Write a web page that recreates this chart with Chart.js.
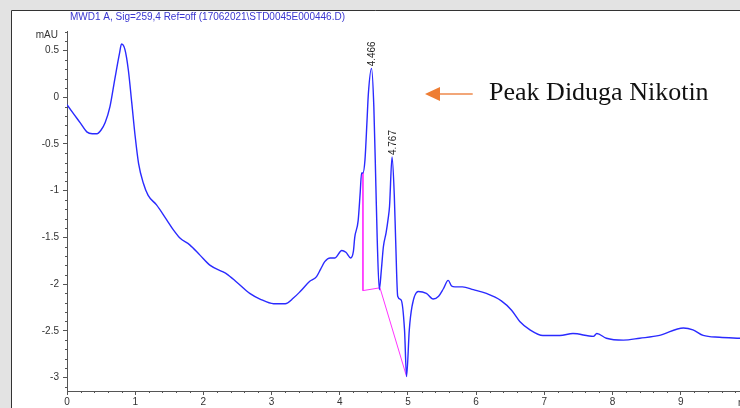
<!DOCTYPE html>
<html>
<head>
<meta charset="utf-8">
<script src="https://cdn.jsdelivr.net/npm/chart.js@4.4.1/dist/chart.umd.min.js"></script>
<style>
  html, body { margin: 0; padding: 0; background: #fff; }
  #wrap { width: 740px; height: 408px; position: relative; }
</style>
</head>
<body>
<div id="wrap"><canvas id="chroma" width="740" height="408"></canvas></div>
<script>
// === DONNÉES ===
const titreSignal = 'MWD1 A, Sig=259,4 Ref=off (17062021\\STD0045E000446.D)';

const tempsMin = [0, 0.1, 0.2, 0.29, 0.37, 0.44, 0.5, 0.56, 0.63, 0.70, 0.77, 0.80, 0.85, 0.90, 0.95,
  1.00, 1.05, 1.12, 1.19, 1.31, 1.46, 1.56, 1.66, 1.80, 1.95, 2.10, 2.29, 2.34, 2.49, 2.68, 2.83,
  3.03, 3.20, 3.32, 3.42, 3.56, 3.66, 3.72, 3.78, 3.86, 3.93, 4.03, 4.09, 4.16, 4.20, 4.22, 4.27,
  4.30, 4.32, 4.34, 4.37, 4.40, 4.42, 4.466, 4.50, 4.53, 4.55, 4.58, 4.61, 4.64, 4.68, 4.71, 4.73,
  4.767, 4.80, 4.82, 4.85, 4.90, 4.95, 4.98, 5.02, 5.06, 5.15, 5.27, 5.37, 5.45, 5.52, 5.59, 5.64,
  5.69, 5.80, 5.96, 6.15, 6.37, 6.52, 6.64, 6.79, 6.98, 7.23, 7.42, 7.72, 7.77, 7.91, 8.16, 8.40,
  8.69, 9.04, 9.18, 9.33, 9.57, 9.87];

const signalMAU = [-0.08, -0.18, -0.28, -0.37, -0.39, -0.39, -0.35, -0.27, -0.10, 0.19, 0.47, 0.57, 0.51, 0.29, -0.06,
  -0.42, -0.71, -0.92, -1.05, -1.15, -1.31, -1.42, -1.51, -1.58, -1.69, -1.80, -1.87, -1.89, -1.98, -2.10, -2.16,
  -2.21, -2.21, -2.15, -2.08, -1.97, -1.92, -1.84, -1.76, -1.72, -1.72, -1.64, -1.66, -1.72, -1.65, -1.50, -1.32,
  -1.02, -0.81, -0.81, -0.67, -0.25, 0.04, 0.31, -0.10, -0.95, -1.53, -2.06, -1.85, -1.60, -1.45, -1.30, -1.17,
  -0.64, -1.05, -1.53, -2.13, -2.17, -2.49, -2.99, -2.49, -2.24, -2.08, -2.10, -2.16, -2.13, -2.05, -1.96, -2.02,
  -2.03, -2.03, -2.06, -2.10, -2.18, -2.28, -2.40, -2.49, -2.55, -2.55, -2.53, -2.56, -2.53, -2.58, -2.60, -2.58,
  -2.55, -2.47, -2.49, -2.55, -2.57, -2.58];

// ligne de base d'intégration (magenta)
const baseT = [4.34, 4.34, 4.59, 4.98];
const baseV = [-0.81, -2.07, -2.04, -2.99];

// sommets annotés
const picT = [4.466, 4.767];
const picV = [0.31, -0.64];
const picLabels = ['4.466', '4.767'];

// annotation "Peak Diduga Nikotin"
const noteTexte = 'Peak Diduga Nikotin';
const flecheDebutT = 5.95, flecheFinT = 5.25, flecheV = 0.035;
const noteT = 6.19;

// === PLUGINS ===
const fondCadre = {
  id: 'fondCadre',
  beforeDraw(chart) {
    const ctx = chart.ctx;
    ctx.save();
    ctx.fillStyle = '#e3e3e3';
    ctx.fillRect(0, 0, chart.width, chart.height);
    ctx.fillStyle = '#ffffff';
    ctx.fillRect(11, 10, chart.width - 11, chart.height - 10);
    ctx.strokeStyle = '#333';
    ctx.lineWidth = 1;
    ctx.beginPath();
    ctx.moveTo(11.5, chart.height);
    ctx.lineTo(11.5, 10.5);
    ctx.lineTo(chart.width, 10.5);
    ctx.stroke();
    // titre du signal
    ctx.fillStyle = '#3a36d0';
    ctx.font = '10px "Liberation Sans", Arial, sans-serif';
    ctx.textBaseline = 'middle';
    ctx.fillText(titreSignal, 70, 17);
    ctx.restore();
  }
};

const decorations = {
  id: 'decorations',
  afterDraw(chart) {
    const ctx = chart.ctx;
    const x = chart.scales.x, y = chart.scales.y;
    const area = chart.chartArea;
    ctx.save();
    ctx.strokeStyle = '#555';
    ctx.lineWidth = 1;
    // petites graduations
    ctx.beginPath();
    for (let v = -31; v <= 7; v++) {
      if (v % 5 === 0) continue;
      const py = Math.round(y.getPixelForValue(v / 10)) + 0.5;
      ctx.moveTo(area.left - 2, py);
      ctx.lineTo(area.left, py);
    }
    for (let t = 1; t <= 49; t++) {
      if (t % 5 === 0) continue;
      const px = Math.round(x.getPixelForValue(t / 5)) + 0.5;
      ctx.moveTo(px, area.bottom);
      ctx.lineTo(px, area.bottom + 2);
    }
    ctx.stroke();

    // unités
    ctx.fillStyle = '#333';
    ctx.font = '10px "Liberation Sans", Arial, sans-serif';
    ctx.textAlign = 'right';
    ctx.textBaseline = 'middle';
    ctx.fillText('mAU', area.left - 9, 35);
    ctx.textAlign = 'left';
    ctx.fillText('min', chart.width - 2, 403);

    // étiquettes des pics (verticales)
    ctx.fillStyle = '#222';
    picT.forEach((t, i) => {
      const px = x.getPixelForValue(t);
      const py = y.getPixelForValue(picV[i]);
      ctx.save();
      ctx.translate(px + 1, py - 2);
      ctx.rotate(-Math.PI / 2);
      ctx.textAlign = 'left';
      ctx.textBaseline = 'middle';
      ctx.fillText(picLabels[i], 0, 0);
      ctx.restore();
    });

    // flèche orange + texte
    const fy = y.getPixelForValue(flecheV);
    const fx0 = x.getPixelForValue(flecheDebutT);
    const fx1 = x.getPixelForValue(flecheFinT);
    ctx.strokeStyle = '#f2a678';
    ctx.lineWidth = 2;
    ctx.beginPath();
    ctx.moveTo(fx0, fy);
    ctx.lineTo(fx1 + 12, fy);
    ctx.stroke();
    ctx.fillStyle = '#ee7d33';
    ctx.beginPath();
    ctx.moveTo(fx1, fy);
    ctx.lineTo(fx1 + 15, fy - 7);
    ctx.lineTo(fx1 + 15, fy + 7);
    ctx.closePath();
    ctx.fill();
    ctx.fillStyle = '#111';
    ctx.font = '26px "Liberation Serif", "Times New Roman", serif';
    ctx.textAlign = 'left';
    ctx.textBaseline = 'alphabetic';
    ctx.fillText(noteTexte, x.getPixelForValue(noteT), fy + 6);
    ctx.restore();
  }
};

// === GRAPHIQUE ===
const ctx = document.getElementById('chroma').getContext('2d');

new Chart(ctx, {
  type: 'line',
  data: {
    datasets: [
      {
        label: 'baseline',
        data: baseT.map((t, i) => ({ x: t, y: baseV[i] })),
        borderColor: '#ff33ff',
        borderWidth: 1,
        pointRadius: 0,
        tension: 0,
        order: 2
      },
      {
        label: 'signal',
        data: tempsMin.map((t, i) => ({ x: t, y: signalMAU[i] })),
        borderColor: '#2a2aff',
        borderWidth: 1.4,
        pointRadius: 0,
        cubicInterpolationMode: 'monotone',
        order: 1
      }
    ]
  },
  options: {
    responsive: false,
    animation: false,
    layout: { padding: { top: 31, left: 0, right: 0, bottom: 0 } },
    plugins: {
      legend: { display: false },
      tooltip: { enabled: false }
    },
    scales: {
      x: {
        type: 'linear',
        min: 0,
        max: 9.87,
        afterFit: s => { s.height = 17; },
        grid: { drawOnChartArea: false, tickLength: 4, tickColor: '#555' },
        border: { color: '#555', width: 1 },
        ticks: {
          stepSize: 1,
          includeBounds: false,
          padding: 1,
          maxRotation: 0,
          color: '#333',
          font: { family: '"Liberation Sans", Arial, sans-serif', size: 10 }
        }
      },
      y: {
        min: -3.145,
        max: 0.71,
        afterFit: s => { s.width = 67; },
        grid: { drawOnChartArea: false, tickLength: 4, tickColor: '#555' },
        border: { color: '#555', width: 1 },
        ticks: {
          stepSize: 0.5,
          includeBounds: false,
          padding: 4,
          color: '#333',
          font: { family: '"Liberation Sans", Arial, sans-serif', size: 10 },
          callback: v => String(Math.round(v * 10) / 10)
        }
      }
    }
  },
  plugins: [fondCadre, decorations]
});
</script>
</body>
</html>
